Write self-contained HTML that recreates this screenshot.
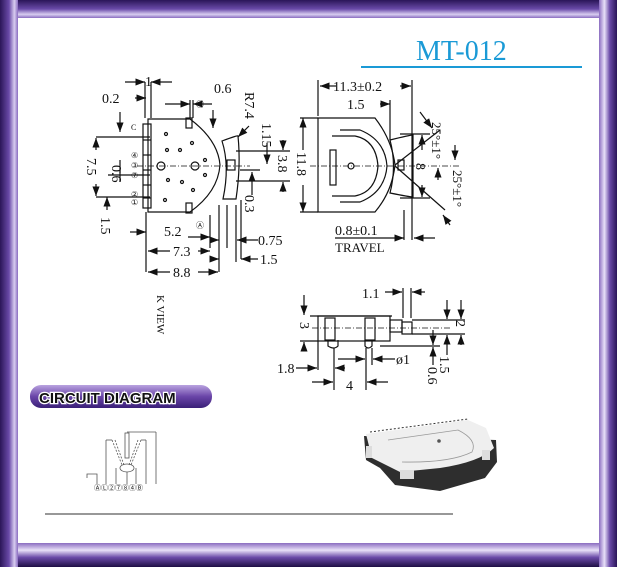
<!DOCTYPE html>
<html><head><meta charset="utf-8"><style>
html,body{margin:0;padding:0;background:#fff}
#f{position:relative;width:617px;height:567px;overflow:hidden;background:#2a1558}
svg text{font-family:"Liberation Serif",serif;fill:#111}
</style></head><body><div id="f">
<svg width="617" height="567" viewBox="0 0 617 567" xmlns="http://www.w3.org/2000/svg">
<defs>
<linearGradient id="gt" x1="0" y1="0" x2="0" y2="1"><stop offset="0" stop-color="#2a1558"/><stop offset="0.5" stop-color="#6a4aa8"/><stop offset="0.8" stop-color="#d8cdf0"/><stop offset="1" stop-color="#8a6cc0"/></linearGradient>
<linearGradient id="gb" x1="0" y1="0" x2="0" y2="1"><stop offset="0" stop-color="#8a6cc0"/><stop offset="0.3" stop-color="#e8e0f8"/><stop offset="0.6" stop-color="#6a4aa8"/><stop offset="1" stop-color="#1e0e44"/></linearGradient>
<linearGradient id="gl" x1="0" y1="0" x2="1" y2="0"><stop offset="0" stop-color="#2a1558"/><stop offset="0.5" stop-color="#6a4aa8"/><stop offset="0.8" stop-color="#d8cdf0"/><stop offset="1" stop-color="#8a6cc0"/></linearGradient>
<linearGradient id="gr" x1="0" y1="0" x2="1" y2="0"><stop offset="0" stop-color="#8a6cc0"/><stop offset="0.3" stop-color="#e8e0f8"/><stop offset="0.6" stop-color="#6a4aa8"/><stop offset="1" stop-color="#2a1558"/></linearGradient>
<linearGradient id="pill" x1="0" y1="0" x2="0" y2="1"><stop offset="0" stop-color="#b9a3e0"/><stop offset="0.5" stop-color="#6a45a8"/><stop offset="1" stop-color="#3a1f78"/></linearGradient>
<marker id="a" markerWidth="8" markerHeight="6" refX="8" refY="3" orient="auto"><path d="M0,0 L8,3 L0,6z" fill="#111"/></marker>
</defs>
<rect x="0" y="0" width="617" height="18" fill="url(#gt)"/>
<rect x="0" y="543" width="617" height="24" fill="url(#gb)"/>
<rect x="0" y="0" width="18" height="567" fill="url(#gl)"/>
<rect x="599" y="0" width="18" height="567" fill="url(#gr)"/>
<rect x="18" y="18" width="581" height="525" fill="#fff"/>

<text x="416" y="60" font-size="28" style="fill:#1a9ad6">MT-012</text>
<line x1="361" y1="67" x2="582" y2="67" stroke="#1a9ad6" stroke-width="2"/>

<g stroke="#111" fill="none" stroke-width="1.2">
<path d="M148,119 L190,119 Q218,140 220,165 Q218,192 190,212 L148,212 Z"/>
<rect x="143" y="124" width="8" height="84"/>
<line x1="143" y1="140" x2="151" y2="140"/><line x1="143" y1="155" x2="151" y2="155"/><line x1="143" y1="170" x2="151" y2="170"/><line x1="143" y1="185" x2="151" y2="185"/><line x1="143" y1="198" x2="151" y2="198"/>
<rect x="186" y="118" width="6" height="10"/><rect x="186" y="203" width="6" height="10"/>
<circle cx="161" cy="166" r="4"/><circle cx="195" cy="166" r="4"/>
<circle cx="167" cy="150" r="1.5"/><circle cx="180" cy="150" r="1.5"/><circle cx="192" cy="143" r="1.5"/><circle cx="168" cy="180" r="1.5"/><circle cx="182" cy="182" r="1.5"/><circle cx="193" cy="190" r="1.5"/><circle cx="205" cy="160" r="1.5"/><circle cx="205" cy="175" r="1.5"/><circle cx="165" cy="200" r="1.5"/><circle cx="166" cy="134" r="1.5"/>
<path d="M222,141 Q238,135 238,136 Q241,166 236,199 L223,199 Q230,166 222,141 Z"/>
<rect x="227" y="160" width="8" height="10"/>
<line x1="137" y1="166" x2="250" y2="166" stroke-dasharray="6 2 1 2" stroke-width="0.8"/>
<line x1="145" y1="82" x2="145" y2="118"/><line x1="151" y1="82" x2="151" y2="118"/>
<line x1="125" y1="82" x2="145" y2="82" marker-end="url(#a)"/><line x1="172" y1="82" x2="151" y2="82" marker-end="url(#a)"/>
<line x1="165" y1="104" x2="190" y2="104" marker-end="url(#a)"/><line x1="212" y1="104" x2="193" y2="104" marker-end="url(#a)"/>
<line x1="190" y1="100" x2="190" y2="118"/><line x1="193" y1="100" x2="193" y2="118"/>
<line x1="135" y1="98" x2="146" y2="98" marker-end="url(#a)"/>
<line x1="120" y1="112" x2="120" y2="132" marker-end="url(#a)"/>
<line x1="96" y1="137" x2="150" y2="137"/><line x1="96" y1="197" x2="150" y2="197"/>
<line x1="96" y1="150" x2="96" y2="138" marker-end="url(#a)"/><line x1="96" y1="184" x2="96" y2="196" marker-end="url(#a)"/>
<line x1="120" y1="160" x2="120" y2="173"/><line x1="108" y1="175" x2="150" y2="175"/><line x1="120" y1="170" x2="120" y2="182"/>
<line x1="107" y1="210" x2="107" y2="197" marker-end="url(#a)"/>
<line x1="146" y1="212" x2="146" y2="272"/><line x1="210" y1="215" x2="210" y2="248"/><line x1="219" y1="205" x2="219" y2="272"/><line x1="227" y1="205" x2="227" y2="248"/><line x1="236" y1="205" x2="236" y2="262"/>
<line x1="130" y1="232" x2="146" y2="232" marker-end="url(#a)"/>
<line x1="188" y1="237" x2="210" y2="237" marker-end="url(#a)"/>
<line x1="170" y1="251" x2="148" y2="251" marker-end="url(#a)"/><line x1="198" y1="251" x2="210" y2="251" marker-end="url(#a)"/>
<line x1="170" y1="272" x2="148" y2="272" marker-end="url(#a)"/><line x1="198" y1="272" x2="218" y2="272" marker-end="url(#a)"/>
<line x1="213" y1="240" x2="219" y2="240" marker-end="url(#a)"/><line x1="258" y1="240" x2="237" y2="240" marker-end="url(#a)"/>
<line x1="213" y1="259" x2="219" y2="259" marker-end="url(#a)"/><line x1="258" y1="259" x2="241" y2="259" marker-end="url(#a)"/>
<line x1="241" y1="200" x2="241" y2="259"/>
<line x1="213" y1="110" x2="213" y2="128" marker-end="url(#a)"/>
<line x1="249" y1="126" x2="238" y2="137" marker-end="url(#a)"/>
<line x1="236" y1="151" x2="290" y2="151"/><line x1="236" y1="181" x2="290" y2="181"/>
<line x1="283" y1="140" x2="283" y2="150" marker-end="url(#a)"/><line x1="283" y1="192" x2="283" y2="182" marker-end="url(#a)"/>
<line x1="267" y1="143" x2="267" y2="164" marker-end="url(#a)"/>
<line x1="252" y1="195" x2="252" y2="172" marker-end="url(#a)"/>
<line x1="240" y1="170" x2="260" y2="170"/>

<path d="M318,118 L375,118 Q392,140 395,165 Q392,192 375,212 L318,212 Z"/>
<path d="M332,136 L355,136 Q376,140 378,166 Q376,192 355,196 L332,196"/>
<path d="M340,130 L360,130 Q385,140 387,166 Q385,192 360,202 L340,202"/>
<rect x="330" y="150" width="6" height="35"/>
<circle cx="351" cy="166" r="3"/>
<path d="M390,140 Q410,135 413,135 L413,197 Q410,197 390,193 Q397,166 390,140 Z"/>
<rect x="398" y="160" width="6" height="10"/>
<line x1="310" y1="166" x2="460" y2="166" stroke-dasharray="6 2 1 2" stroke-width="0.8"/>
<line x1="318" y1="80" x2="318" y2="116"/><line x1="412" y1="80" x2="412" y2="240"/>
<line x1="336" y1="86" x2="320" y2="86" marker-end="url(#a)"/><line x1="400" y1="86" x2="411" y2="86" marker-end="url(#a)"/>
<line x1="380" y1="104" x2="390" y2="104" marker-end="url(#a)"/><line x1="390" y1="100" x2="390" y2="140"/>
<line x1="303" y1="150" x2="303" y2="118" marker-end="url(#a)"/><line x1="303" y1="185" x2="303" y2="212" marker-end="url(#a)"/>
<line x1="300" y1="118" x2="318" y2="118"/><line x1="300" y1="212" x2="318" y2="212"/>
<line x1="400" y1="134" x2="430" y2="134"/><line x1="400" y1="198" x2="430" y2="198"/>
<line x1="422" y1="150" x2="422" y2="135" marker-end="url(#a)"/><line x1="422" y1="185" x2="422" y2="197" marker-end="url(#a)"/>
<line x1="395" y1="165" x2="440" y2="130"/><line x1="395" y1="166" x2="445" y2="210"/>
<line x1="420" y1="112" x2="432" y2="128" marker-end="url(#a)"/><line x1="438" y1="180" x2="438" y2="168" marker-end="url(#a)"/>
<line x1="455" y1="145" x2="455" y2="160" marker-end="url(#a)"/><line x1="450" y1="225" x2="443" y2="215" marker-end="url(#a)"/>
<line x1="335" y1="238" x2="404" y2="238" marker-end="url(#a)"/><line x1="435" y1="238" x2="414" y2="238" marker-end="url(#a)"/>
<line x1="404" y1="210" x2="404" y2="240"/>

<rect x="318" y="316" width="72" height="25"/>
<line x1="310" y1="316" x2="392" y2="316"/>
<rect x="325" y="318" width="10" height="22"/><rect x="365" y="318" width="10" height="22"/>
<path d="M328,340 L328,346 Q334,350 338,346 L338,340"/><path d="M365,340 L365,346 Q368,350 372,346 L372,340"/>
<rect x="390" y="320" width="12" height="12"/><rect x="402" y="322" width="10" height="12"/>
<line x1="312" y1="328" x2="450" y2="328" stroke-dasharray="6 2 1 2" stroke-width="0.8"/>
<line x1="304" y1="295" x2="304" y2="315" marker-end="url(#a)"/><line x1="304" y1="350" x2="304" y2="342" marker-end="url(#a)"/>
<line x1="300" y1="341" x2="318" y2="341"/>
<line x1="403" y1="288" x2="403" y2="318"/><line x1="411" y1="288" x2="411" y2="318"/>
<line x1="385" y1="292" x2="402" y2="292" marker-end="url(#a)"/><line x1="425" y1="292" x2="412" y2="292" marker-end="url(#a)"/>
<line x1="412" y1="320" x2="465" y2="320"/><line x1="412" y1="334" x2="465" y2="334"/><line x1="380" y1="346" x2="440" y2="346"/>
<line x1="447" y1="300" x2="447" y2="319" marker-end="url(#a)"/><line x1="447" y1="355" x2="447" y2="335" marker-end="url(#a)"/>
<line x1="461" y1="300" x2="461" y2="319" marker-end="url(#a)"/><line x1="461" y1="345" x2="461" y2="335" marker-end="url(#a)"/>
<line x1="433" y1="330" x2="433" y2="345" marker-end="url(#a)"/><line x1="433" y1="365" x2="433" y2="347" marker-end="url(#a)"/>
<line x1="318" y1="341" x2="318" y2="370"/><line x1="334" y1="348" x2="334" y2="390"/><line x1="366" y1="348" x2="366" y2="390"/><line x1="372" y1="348" x2="372" y2="365"/>
<line x1="296" y1="368" x2="317" y2="368" marker-end="url(#a)"/><line x1="345" y1="368" x2="335" y2="368" marker-end="url(#a)"/>
<line x1="338" y1="359" x2="365" y2="359" marker-end="url(#a)"/><line x1="395" y1="359" x2="373" y2="359" marker-end="url(#a)"/>
<line x1="312" y1="382" x2="333" y2="382" marker-end="url(#a)"/><line x1="388" y1="382" x2="367" y2="382" marker-end="url(#a)"/>
</g>

<g font-size="14">
<text x="145" y="86">1</text><text x="214" y="93">0.6</text><text x="102" y="103">0.2</text>
<text x="164" y="236">5.2</text><text x="173" y="256">7.3</text><text x="173" y="277">8.8</text>
<text x="258" y="245">0.75</text><text x="260" y="264">1.5</text>
<text x="333" y="91">11.3±0.2</text><text x="347" y="109">1.5</text>
<text x="335" y="235">0.8±0.1</text><text x="335" y="252" font-size="13">TRAVEL</text>
<text x="362" y="298">1.1</text><text x="277" y="373">1.8</text><text x="396" y="364">ø1</text><text x="346" y="390">4</text>
<text transform="translate(245,92) rotate(90)">R7.4</text>
<text transform="translate(262,123) rotate(90)">1.15</text>
<text transform="translate(278,155) rotate(90)">3.8</text>
<text transform="translate(245,195) rotate(90)">0.3</text>
<text transform="translate(87,158) rotate(90)">7.5</text>
<text transform="translate(112,165) rotate(90)">0.6</text>
<text transform="translate(101,217) rotate(90)">1.5</text>
<text transform="translate(297,152) rotate(90)">11.8</text>
<text transform="translate(416,163) rotate(90)">8</text>
<text transform="translate(432,122) rotate(90)" font-size="13">25°±1°</text>
<text transform="translate(453,170) rotate(90)" font-size="13">25°±1°</text>
<text transform="translate(157,295) rotate(90)" font-size="11">K VIEW</text>
<text transform="translate(300,322) rotate(90)">3</text>
<text transform="translate(456,320) rotate(90)">2</text>
<text transform="translate(440,356) rotate(90)">1.5</text>
<text transform="translate(428,367) rotate(90)">0.6</text>
</g>
<g font-size="8"><text x="131" y="130">C</text><text x="131" y="158">④</text><text x="131" y="168">③</text><text x="131" y="178">⑦</text><text x="131" y="197">②</text><text x="131" y="205">①</text><text x="196" y="107">Ⓑ</text><text x="196" y="228">Ⓐ</text></g>

<rect x="30" y="385" width="182" height="23" rx="11" fill="url(#pill)"/>
<text x="39" y="403" font-size="15" font-weight="bold" style="font-family:'Liberation Sans',sans-serif;fill:#111;stroke:#fff;stroke-width:2.5;paint-order:stroke">CIRCUIT DIAGRAM</text>

<g stroke="#555" fill="none" stroke-width="0.8">
<line x1="127" y1="432" x2="156" y2="432"/><line x1="156" y1="432" x2="156" y2="484"/>
<rect x="125" y="433" width="4" height="25"/>
<line x1="112" y1="440" x2="106" y2="440"/><line x1="106" y1="440" x2="106" y2="484"/>
<line x1="141" y1="440" x2="146" y2="440"/><line x1="146" y1="440" x2="146" y2="484"/>
<path d="M112,440 L122,465 M115,440 L124,465 M141,440 L131,465 M138,440 L129,465" stroke-dasharray="2 1.5"/>
<ellipse cx="127" cy="468" rx="7" ry="4"/>
<line x1="116" y1="468" x2="116" y2="484"/><line x1="127" y1="472" x2="127" y2="484"/><line x1="136" y1="468" x2="136" y2="484"/>
<path d="M87,478 L87,474 L97,474 L97,484"/>
</g>
<g font-size="7" fill="#333"><text x="94" y="490">ⒶⓁ②⑦⑧④Ⓑ</text></g>

<!-- 3D product -->
<path d="M364,436 L366,460 L380,468 L395,485 L440,491 L485,478 L497,462 L496,440 Z" fill="#2e2e2e"/>
<path d="M366,434 L468,420 L486,428 L494,448 Q480,462 440,468 L400,472 L372,458 Z" fill="#efefef"/>
<path d="M388,440 L458,430 Q478,440 472,452 Q450,463 402,462" stroke="#999" fill="none" stroke-width="0.8"/>
<circle cx="439" cy="441" r="1.8" fill="#555"/>
<rect x="400" y="470" width="14" height="9" fill="#ddd"/><rect x="366" y="446" width="6" height="12" fill="#ddd"/><rect x="482" y="450" width="8" height="10" fill="#ddd"/>
<line x1="370" y1="432" x2="468" y2="419" stroke="#333" stroke-dasharray="2 2"/>

<line x1="45" y1="514" x2="453" y2="514" stroke="#777" stroke-width="1.5"/>
</svg>
</div></body></html>
